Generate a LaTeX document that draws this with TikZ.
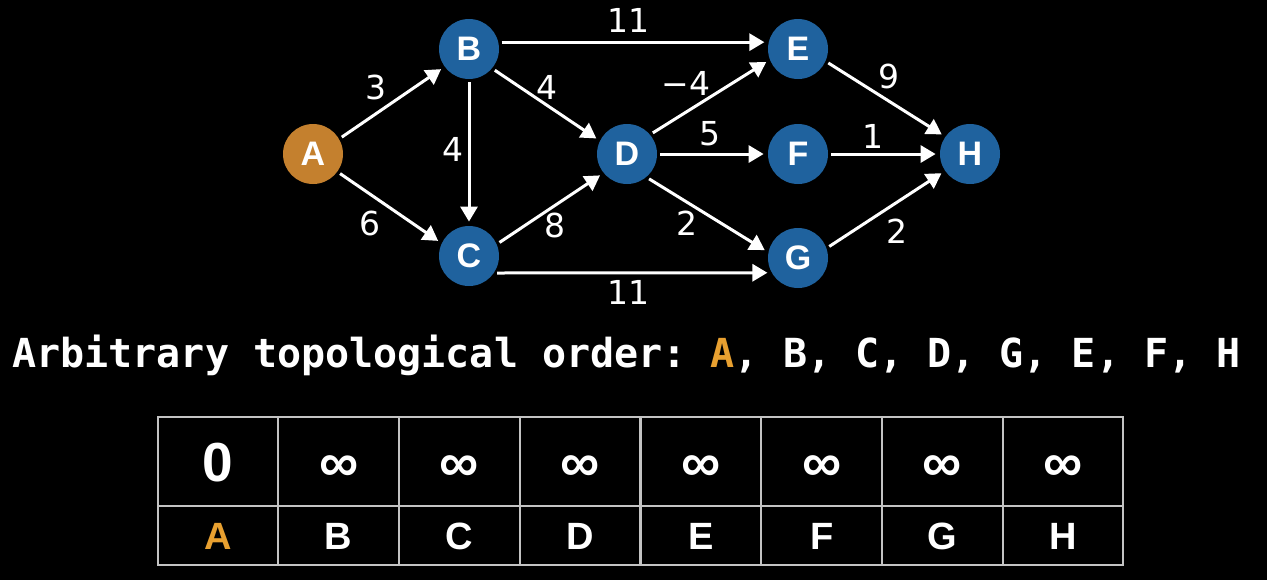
\documentclass[tikz,border=0pt]{standalone}
\usepackage{fontspec}
\usepackage{tikz}
\usetikzlibrary{
  arrows.meta,
  positioning
}
\usepackage{xcolor}
\definecolor{vertexblue}{RGB}{31,98,158}
\definecolor{sourceorange}{RGB}{196,128,46}
\definecolor{highlight}{RGB}{232,160,48}
\definecolor{gridline}{RGB}{195,195,195}
\newfontfamily\vertexfont{Liberation Sans}
\newfontfamily\weightfont{DejaVu Sans}
\newfontfamily\orderfont{DejaVu Sans Mono}
\frenchspacing

\begin{document}
\begin{tikzpicture}[
  x=0.5pt, y=-0.5pt,
  vertex/.style={circle, fill=vertexblue, minimum size=30pt, inner sep=0pt,
                 text=white, font=\vertexfont\bfseries\fontsize{17}{19}\selectfont},
  source/.style={vertex, fill=sourceorange},
  link/.style={draw=white, line width=1.5pt, -{Triangle[length=7.5pt, width=8.5pt]},
               shorten >=2pt, shorten <=1.5pt},
  weight/.style={text=white, inner sep=0pt,
                 font=\weightfont\fontsize{16.5}{18}\selectfont},
  order/.style={text=white, inner sep=0pt,
                font=\orderfont\bfseries\fontsize{20}{22}\selectfont},
  cell/.style={draw=gridline, line width=1pt, minimum width=60.375pt,
               inner sep=0pt, text=white},
  distcell/.style={cell, minimum height=44.65pt, text height=19.7pt, text depth=0pt,
                   font=\vertexfont\bfseries\fontsize{27.5}{30}\selectfont},
  namecell/.style={cell, minimum height=29.5pt, text height=13.6pt, text depth=0pt,
                   font=\vertexfont\bfseries\fontsize{19}{21}\selectfont},
]

\path[use as bounding box, fill=black] (0,0) rectangle (1267,580);

% graph
\node[source] (A) at (313,154) {A};
\node[vertex] (B) at (469,49)  {B};
\node[vertex] (C) at (469,256) {C};
\node[vertex] (D) at (627,154) {D};
\node[vertex] (E) at (798,49)  {E};
\node[vertex] (F) at (798,154) {F};
\node[vertex] (G) at (798,258) {G};
\node[vertex] (H) at (970,154) {H};

\draw[link] (A.30) -- (B.216);
\draw[link] (A.-36) -- (C.155);
\draw[link] (B) -- (C);
\draw[link] (B.-40) -- (D.154);
\draw[link] (B.13) -- (E.167);
\draw[link] (C.23) -- (D.219);
\draw[link] (C.-34) -- (G.209);
\draw[link] (D.40) -- (E.201);
\draw[link] (D) -- (F);
\draw[link] (D.-50) -- (G.169);
\draw[link] (E.-24) -- (H.145);
\draw[link] (F) -- (H);
\draw[link] (G.19) -- (H.214);

\node[weight] (w-ab) at (376,87)  {3};
\node[weight] (w-ac) at (370,223) {6};
\node[weight] (w-bc) at (453,149) {4};
\node[weight] (w-bd) at (547,87)  {4};
\node[weight] (w-be) at (628,20)  {11};
\node[weight] (w-cd) at (555,225) {8};
\node[weight] (w-cg) at (628,292) {11};
\node[weight] (w-de) at (686,83)  {−4};
\node[weight] (w-df) at (710,134) {5};
\node[weight] (w-dg) at (687,223) {2};
\node[weight] (w-eh) at (889,76)  {9};
\node[weight] (w-fh) at (873,136) {1};
\node[weight] (w-gh) at (897,231) {2};

% order
\node[order, anchor=base west] (topo) at (12,367)
  {Arbitrary topological order: \textcolor{highlight}{A}, B, C, D, G, E, F, H};

% distance table
\node[distcell] (dA) at (217.9,461.4)  {0};
\node[distcell] (dB) at (338.6,461.4)  {∞};
\node[distcell] (dC) at (459.4,461.4)  {∞};
\node[distcell] (dD) at (580.1,461.4)  {∞};
\node[distcell] (dE) at (700.9,461.4)  {∞};
\node[distcell] (dF) at (821.6,461.4)  {∞};
\node[distcell] (dG) at (942.4,461.4)  {∞};
\node[distcell] (dH) at (1063.1,461.4) {∞};

\node[namecell] (nA) at (217.9,535.5)  {\textcolor{highlight}{A}};
\node[namecell] (nB) at (338.6,535.5)  {B};
\node[namecell] (nC) at (459.4,535.5)  {C};
\node[namecell] (nD) at (580.1,535.5)  {D};
\node[namecell] (nE) at (700.9,535.5)  {E};
\node[namecell] (nF) at (821.6,535.5)  {F};
\node[namecell] (nG) at (942.4,535.5)  {G};
\node[namecell] (nH) at (1063.1,535.5) {H};

\end{tikzpicture}
\end{document}
